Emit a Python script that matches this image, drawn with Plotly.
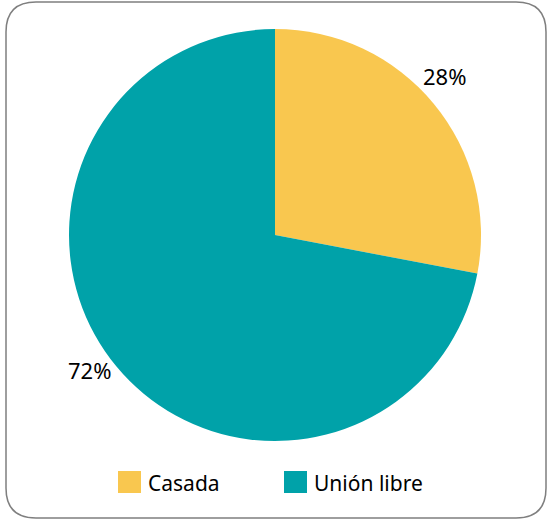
import math
import plotly.graph_objects as go

categories = ["Casada", "Unión libre"]
values = [28, 72]
colors = ["#F9C74F", "#00A2A9"]
label_texts = ["28%", "72%"]

W, H = 547, 520
cx, cy, R = 275, 235, 206

fig = go.Figure(go.Pie(
    labels=categories, values=values, sort=False, direction="clockwise", rotation=0,
    marker=dict(colors=colors, line=dict(width=0)), textinfo="none", hoverinfo="label+percent",
    showlegend=False,
    domain=dict(x=[(cx - R) / W, (cx + R) / W], y=[1 - (cy + R) / H, 1 - (cy - R) / H]),
))

# outside percentage labels, placed from the data angles
total = sum(values)
acc = 0
annotations = []
for v, t in zip(values, label_texts):
    mid = (acc + v / 2) / total * 2 * math.pi
    acc += v
    r = R * 1.12
    x = cx + r * math.sin(mid) - 8
    y = cy - r * math.cos(mid) - 12
    annotations.append(dict(x=x / W, y=1 - y / H, xref="paper", yref="paper", text=t,
                            showarrow=False, xanchor="center", yanchor="middle",
                            font=dict(size=22, color="#000000",
                                      family="Noto Sans, Open Sans, sans-serif")))

# custom legend
shapes = []
leg_x = [118, 284]
for i, (c, name) in enumerate(zip(colors, categories)):
    x0 = leg_x[i]
    shapes.append(dict(type="rect", xref="paper", yref="paper",
                       x0=x0 / W, x1=(x0 + 23) / W, y0=1 - 493 / H, y1=1 - 471 / H,
                       fillcolor=c, line=dict(width=0)))
    annotations.append(dict(x=(x0 + 28) / W, y=1 - 483 / H, xref="paper", yref="paper",
                            text=name, showarrow=False, xanchor="left", yanchor="middle",
                            font=dict(size=21, color="#000000",
                                      family="Noto Sans, Open Sans, sans-serif")))

# rounded border
l, t, rgt, b, rr = 6 / W, 1 - 2 / H, 546 / W, 1 - 518 / H, 30
rx, ry = rr / W, rr / H
path = (f"M {l+rx},{t} L {rgt-rx},{t} Q {rgt},{t} {rgt},{t-ry} L {rgt},{b+ry} "
        f"Q {rgt},{b} {rgt-rx},{b} L {l+rx},{b} Q {l},{b} {l},{b+ry} L {l},{t-ry} Q {l},{t} {l+rx},{t} Z")
shapes.append(dict(type="path", xref="paper", yref="paper", path=path,
                   line=dict(color="#7F7F7F", width=1.5), fillcolor="rgba(0,0,0,0)"))

fig.update_layout(width=W, height=H, margin=dict(l=0, r=0, t=0, b=0),
                  paper_bgcolor="white", plot_bgcolor="white",
                  shapes=shapes, annotations=annotations)
fig.write_html("out.html", config={"displayModeBar": False},
               post_script="document.body.style.margin='0';document.body.style.overflow='hidden';")
